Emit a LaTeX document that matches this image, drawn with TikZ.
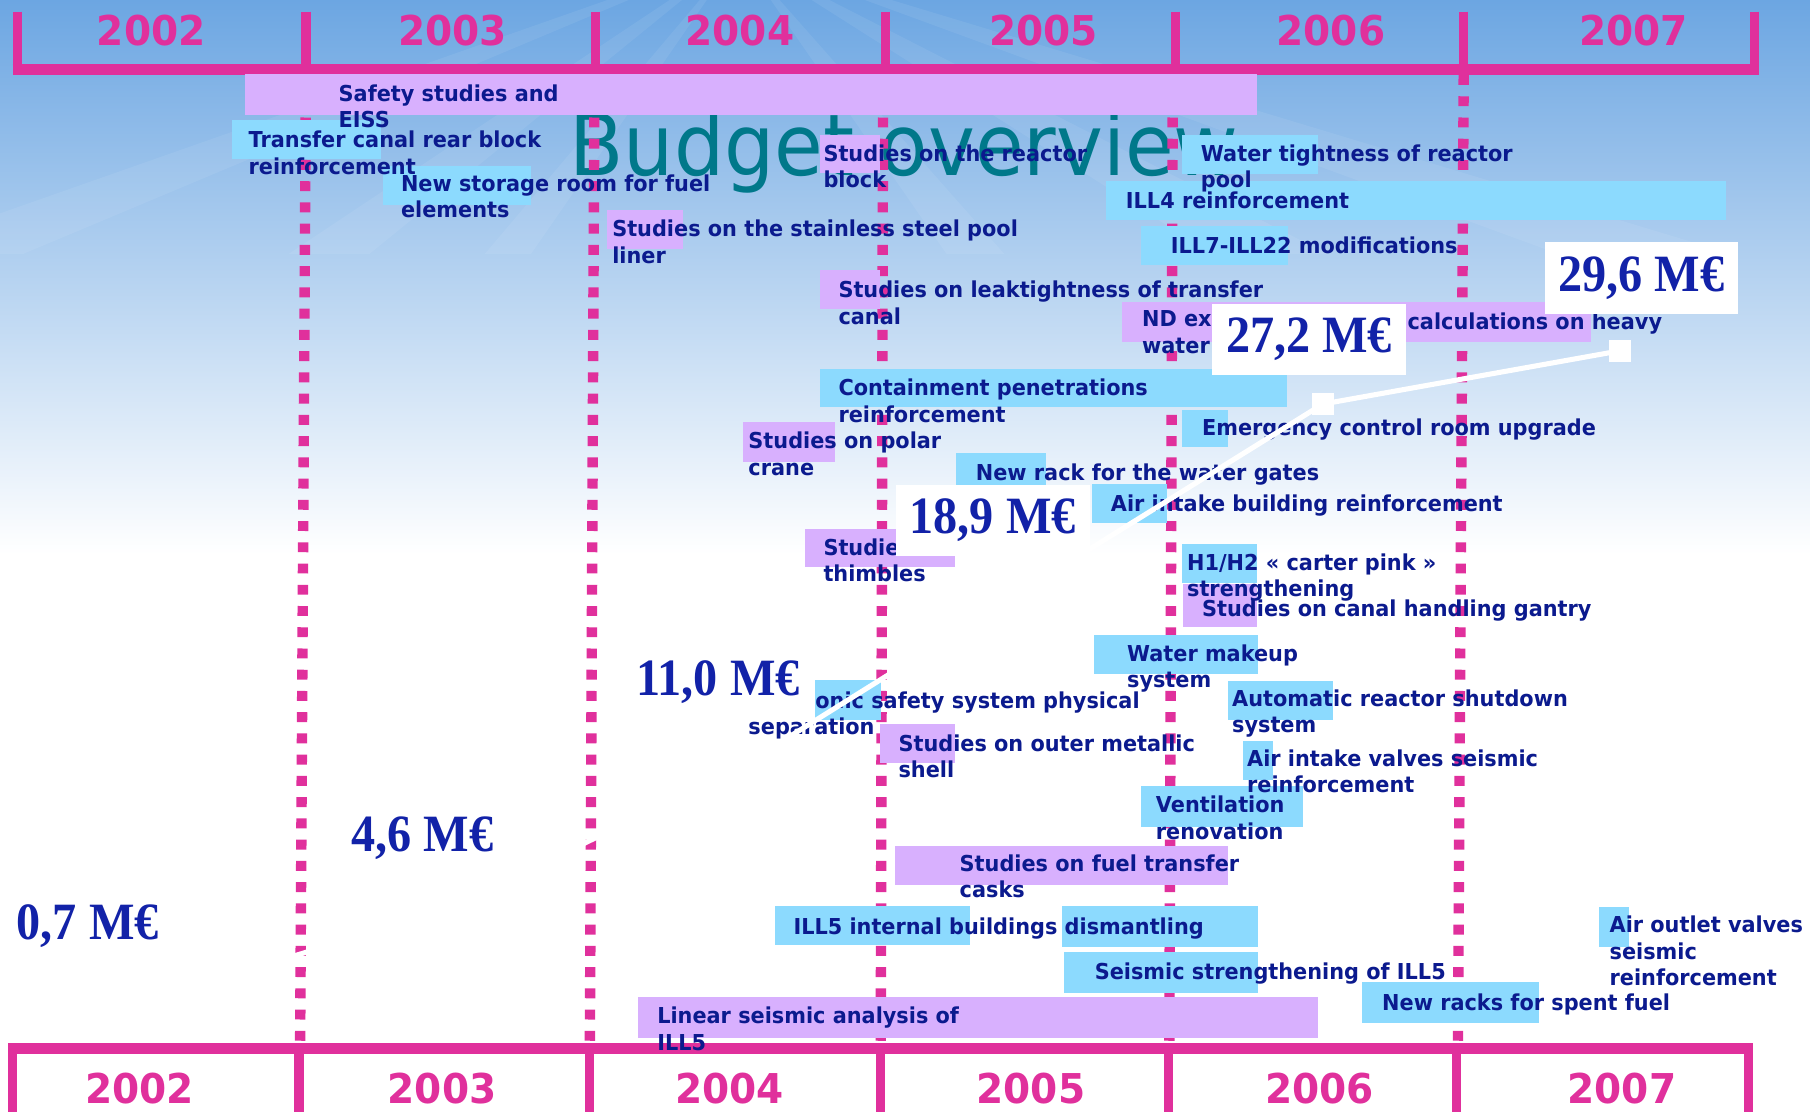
\documentclass[tikz,border=0pt]{standalone}
\usepackage{fontspec}
\setmainfont{DejaVu Sans}
\newfontfamily\labelfont[FakeStretch=0.95]{DejaVu Sans}
\newfontfamily\titlefont[FakeStretch=0.93]{DejaVu Sans}
\newfontfamily\moneyfont[FakeStretch=0.92]{Liberation Serif}
\definecolor{cYear}{HTML}{E0309C}
\definecolor{cText}{HTML}{0B1A8E}
\definecolor{cMoney}{HTML}{1222A8}
\definecolor{cTitle}{HTML}{00788A}
\definecolor{cStudy}{HTML}{D8B0FE}
\definecolor{cWork}{HTML}{8CDAFE}
\definecolor{cSkyTop}{HTML}{6CA6E2}
\definecolor{cSkyMid}{HTML}{BFDCF5}
\tikzset{study/.style={fill=cStudy},work/.style={fill=cWork},
item/.style={anchor=north west,inner sep=0pt,align=left,text=cText,font=\labelfont\bfseries\fontsize{9.5}{11.5}\selectfont,execute at begin node={\rule{0pt}{8pt}}},
year/.style={anchor=base,text=cYear,font=\labelfont\bfseries\fontsize{17.8}{20}\selectfont},
money/.style={fill=white,minimum width=84pt,minimum height=31pt,inner sep=0pt,text=cMoney,font=\moneyfont\bfseries\fontsize{22.7}{24}\selectfont},
marker/.style={fill=white,minimum size=9.5pt,inner sep=0pt},
curve/.style={white,line width=2.2pt},
yearline/.style={cYear,line width=4.5pt,dash pattern=on 4.3pt off 4.9pt},
axis/.style={cYear,line width=4.7pt},
tick/.style={cYear,line width=4pt}}

\begin{document}
\begin{tikzpicture}[x=0.5pt,y=-0.5pt]
\useasboundingbox (0,0) rectangle (1568,963);
% background
\fill[white] (0,0) rectangle (1568,963);
\shade[top color=cSkyTop,middle color=cSkyMid,bottom color=white] (0,0) rectangle (1568,480);
\foreach \xa/\xb in {-100/20,250/320,420/460,820/870,1050/1150,1350/1500}
  \fill[white,opacity=0.07] (640,-40) -- (\xa,220) -- (\xb,220) -- cycle;
% title
\node[anchor=base west,inner sep=0pt,text=cTitle,font=\titlefont\fontsize{36.9}{40}\selectfont] (title) at (493,152) {Budget overview};
% year grid
\foreach \xt/\xb in {265/260,515/511,765/763,1016/1013,1268/1263}
  \draw[yearline] (\xt,65) -- (\xb,903);
\draw[axis] (11,60) -- (1524,60);
\foreach \x in {15,265,516,767,1018,1268,1520} \draw[tick] (\x,10) -- (\x,62);
\draw[axis] (7,908) -- (1519,908);
\foreach \x in {11,259,511,763,1012,1262,1515} \draw[tick] (\x,906) -- (\x,963);
\foreach \x/\yr in {131/2002,392/2003,641/2004,904/2005,1153/2006,1415/2007}
  \node[year] (top\yr) at (\x,39) {\yr};
\foreach \x/\yr in {121/2002,383/2003,632/2004,893/2005,1143/2006,1405/2007}
  \node[year] (bot\yr) at (\x,956) {\yr};
% task bars
\fill[study] (212,64) rectangle (1089,100);
\fill[work] (201,104) rectangle (330,138);
\fill[work] (332,144) rectangle (460,178);
\fill[study] (526,182) rectangle (592,216);
\fill[study] (710,117) rectangle (762,150);
\fill[work] (1024,117) rectangle (1142,151);
\fill[work] (958,157) rectangle (1495,191);
\fill[work] (988,196) rectangle (1116,230);
\fill[study] (710,234) rectangle (762,268);
\fill[study] (972,262) rectangle (1378,296);
\fill[work] (710,320) rectangle (1115,353);
\fill[work] (1024,355) rectangle (1064,387);
\fill[study] (644,366) rectangle (723,400);
\fill[work] (828,392) rectangle (906,420);
\fill[work] (946,419) rectangle (1011,453);
\fill[study] (697,458) rectangle (827,491);
\fill[work] (1024,471) rectangle (1089,505);
\fill[study] (1025,506) rectangle (1089,543);
\fill[work] (948,550) rectangle (1090,584);
\fill[work] (1064,590) rectangle (1155,624);
\fill[work] (706,589) rectangle (763,624);
\fill[study] (762,627) rectangle (827,661);
\fill[work] (1077,642) rectangle (1103,676);
\fill[work] (988,681) rectangle (1129,716);
\fill[study] (775,733) rectangle (1064,767);
\fill[work] (671,785) rectangle (840,819);
\fill[work] (920,785) rectangle (1090,820);
\fill[work] (922,825) rectangle (1090,860);
\fill[work] (1180,851) rectangle (1333,886);
\fill[work] (1385,786) rectangle (1411,820);
\fill[study] (553,864) rectangle (1142,899);
% task labels
\node[item] (safety) at (293,73) {Safety studies and\\EISS};
\node[item] (transfer) at (215,113) {Transfer canal rear block\\reinforcement};
\node[item] (storage) at (347,151) {New storage room for fuel\\elements};
\node[item] (liner) at (530,190) {Studies on the stainless steel pool\\liner};
\node[item] (reactor) at (713,125) {Studies on the reactor\\block};
\node[item] (pool) at (1040,125) {Water tightness of reactor\\pool};
\node[item] (ill4) at (975,164) {ILL4 reinforcement};
\node[item] (ill7) at (1014,203) {ILL7-ILL22 modifications};
\node[item] (leak) at (726,243) {Studies on leaktightness of transfer\\canal};
\node[item] (ndex) at (989,269) {ND ex\\water};
\node[item] (heavy) at (1219,269) {calculations on heavy};
\node[item] (contain) at (726,328) {Containment penetrations\\reinforcement};
\node[item] (emergency) at (1041,361) {Emergency control room upgrade};
\node[item] (polar) at (648,374) {Studies on polar\\crane};
\node[item] (rack) at (845,400) {New rack for the water gates};
\node[item] (airbuild) at (962,427) {Air intake building reinforcement};
\node[item] (thimble) at (713,466) {Studie\\thimbles};
\node[item] (carter) at (1028,479) {H1/H2 « carter pink »\\strengthening};
\node[item] (gantry) at (1041,518) {Studies on canal handling gantry};
\node[item] (makeup) at (976,558) {Water makeup\\system};
\node[item] (shutdown) at (1067,597) {Automatic reactor shutdown\\system};
\node[item] (physical) at (706,597) {onic safety system physical};
\node[item] (separation) at (648,620) {separation};
\node[item] (shell) at (778,636) {Studies on outer metallic\\shell};
\node[item] (valves) at (1080,649) {Air intake valves seismic\\reinforcement};
\node[item] (ventil) at (1001,689) {Ventilation\\renovation};
\node[item] (casks) at (831,740) {Studies on fuel transfer\\casks};
\node[item] (ill5) at (687,793) {ILL5 internal buildings dismantling};
\node[item] (strength) at (948,832) {Seismic strengthening of ILL5};
\node[item] (racks) at (1197,859) {New racks for spent fuel};
\node[item] (outlet) at (1394,793) {Air outlet valves\\seismic\\reinforcement};
\node[item] (linear) at (569,872) {Linear seismic analysis of\\ILL5};
% cumulative budget
\node[marker] (m02) at (140,863) {};
\node[marker] (m03) at (390,787) {};
\node[marker] (m04) at (641,665) {};
\node[marker] (m05) at (892,508) {};
\node[marker] (m06) at (1146,350) {};
\node[marker] (m07) at (1403,304) {};
\draw[curve] (m02.center) -- (m03.center) -- (m04.center) -- (m05.center) -- (m06.center) -- (m07.center);
\node[money] (b02) at (76,802) {0,7 M€};
\node[money] (b03) at (366,726) {4,6 M€};
\node[money] (b04) at (622,591) {11,0 M€};
\node[money] (b05) at (860,451) {18,9 M€};
\node[money] (b06) at (1134,294) {27,2 M€};
\node[money] (b07) at (1422,241) {29,6 M€};
\end{tikzpicture}
\end{document}
